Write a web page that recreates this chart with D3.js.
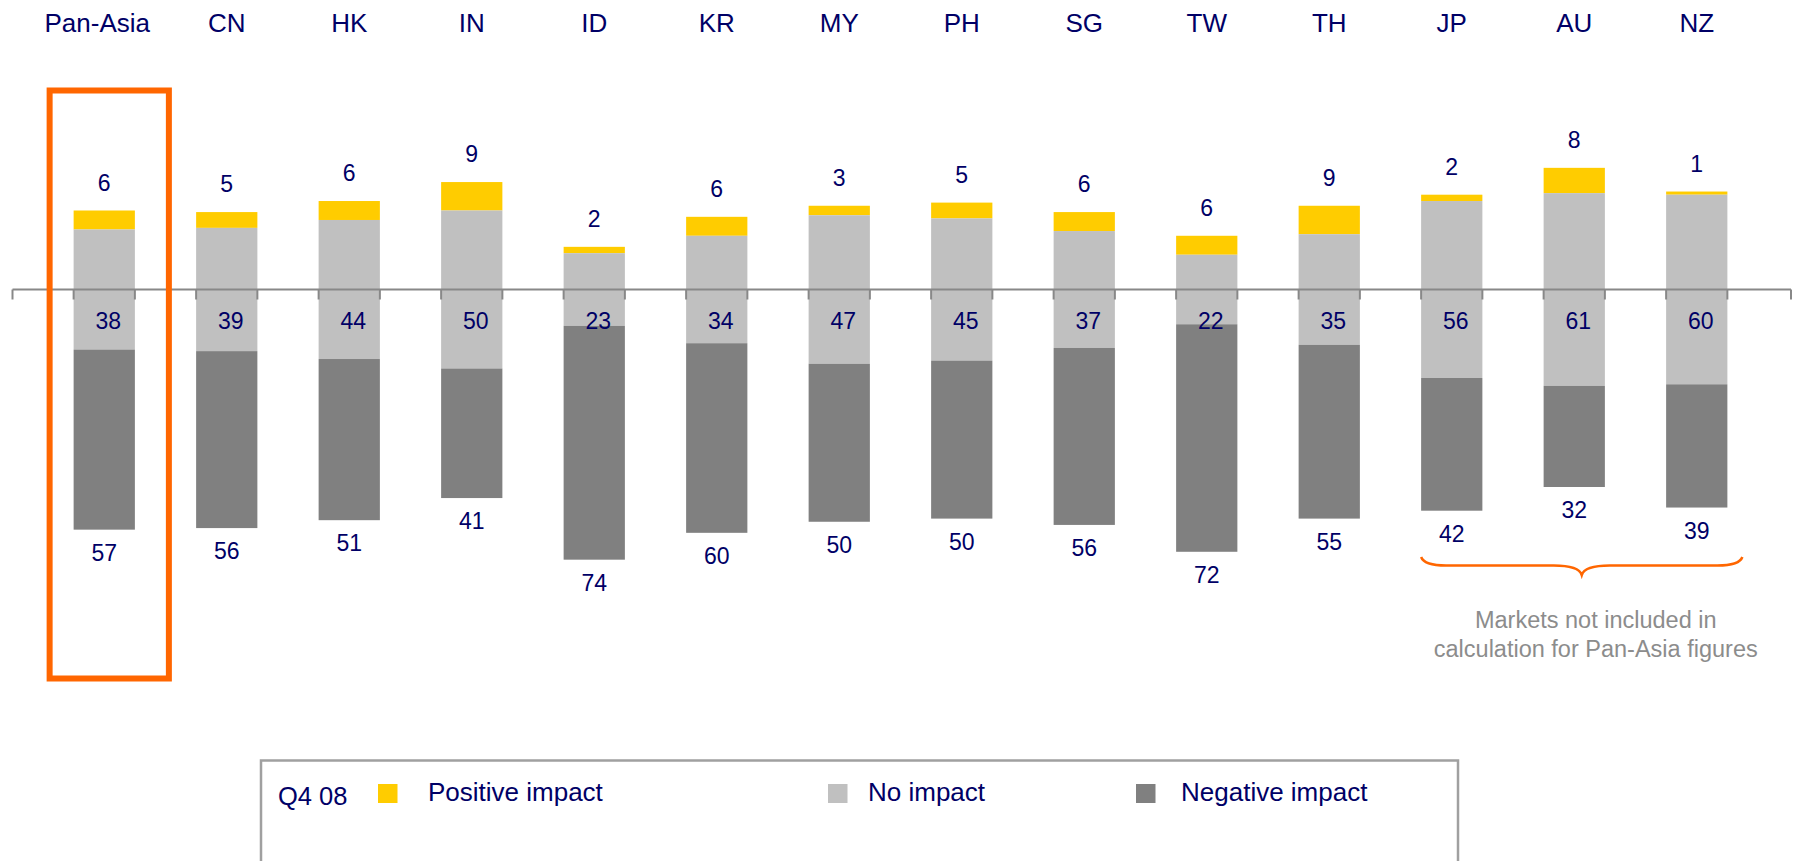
<!DOCTYPE html>
<html>
<head>
<meta charset="utf-8">
<script src="https://cdn.jsdelivr.net/npm/d3@7"></script>
<style>
	body { margin: 0; background: #fff; }
	svg { display: block; font-family: "Liberation Sans", Arial, sans-serif; }
</style>
</head>
<body>
<script>
	var markets = ["Pan-Asia", "CN", "HK", "IN", "ID", "KR", "MY", "PH", "SG", "TW", "TH", "JP", "AU", "NZ"];
	var positive = [6, 5, 6, 9, 2, 6, 3, 5, 6, 6, 9, 2, 8, 1];
	var noImpact = [38, 39, 44, 50, 23, 34, 47, 45, 37, 22, 35, 56, 61, 60];
	var negative = [57, 56, 51, 41, 74, 60, 50, 50, 56, 72, 55, 42, 32, 39];
	var excluded = ["JP", "AU", "NZ"];
	var legendItems = ["Positive impact", "No impact", "Negative impact"];
	var period = "Q4 08";
	var note = ["Markets not included in", "calculation for Pan-Asia figures"];

	var colors = ["#FFCC00", "#C0C0C0", "#808080"];
	var navy = "#000066";

	var w = 1795;
	var h = 861;
	var base = 289.5;

	var svg = d3.select("body").
	append("svg").
	attr("width", w).
	attr("height", h);

	// Set the ranges
	var x = d3.scaleBand().
	domain(markets).
	range([43, 43 + 14 * 122.5]).
	paddingInner(0.5).
	paddingOuter(0.25);

	var y = d3.scaleLinear().
	domain([-60, 60]).
	range([base + 189.6, base - 189.6]);

	var data = markets.map(function (m, i) {
		return {market: m, pos: positive[i], none: noImpact[i], neg: negative[i]};
	});

	// Stacked bars: no impact centred on the axis
	var bars = svg.selectAll(".bar").
	data(data).
	enter().
	append("g").
	attr("class", "bar");

	bars.append("rect").
	attr("x", function (d) {return x(d.market);}).
	attr("y", function (d) {return y(d.none / 2 + d.pos);}).
	attr("width", x.bandwidth()).
	attr("height", function (d) {return y(d.none / 2) - y(d.none / 2 + d.pos);}).
	style("fill", colors[0]);

	bars.append("rect").
	attr("x", function (d) {return x(d.market);}).
	attr("y", function (d) {return y(d.none / 2);}).
	attr("width", x.bandwidth()).
	attr("height", function (d) {return y(-d.none / 2) - y(d.none / 2);}).
	style("fill", colors[1]);

	bars.append("rect").
	attr("x", function (d) {return x(d.market);}).
	attr("y", function (d) {return y(-d.none / 2);}).
	attr("width", x.bandwidth()).
	attr("height", function (d) {return y(-d.none / 2 - d.neg) - y(-d.none / 2);}).
	style("fill", colors[2]);

	// Axis line with ticks at bar edges
	var tickX = [12.5, 1791];
	markets.forEach(function (m) {
		tickX.push(x(m));
		tickX.push(x(m) + x.bandwidth());
	});

	svg.append("line").
	attr("x1", 12.5).
	attr("x2", 1791).
	attr("y1", y(0)).
	attr("y2", y(0)).
	style("stroke", "#888").
	style("stroke-width", 2);

	svg.selectAll(".tick").
	data(tickX).
	enter().
	append("line").
	attr("class", "tick").
	attr("x1", function (d) {return d;}).
	attr("x2", function (d) {return d;}).
	attr("y1", y(0)).
	attr("y2", y(0) + 10).
	style("stroke", "#888").
	style("stroke-width", 2);

	// Value labels
	bars.append("text").
	attr("x", function (d) {return x(d.market) + x.bandwidth() / 2;}).
	attr("y", function (d) {return y(d.none / 2 + d.pos) - 20;}).
	attr("text-anchor", "middle").
	style("font-size", "23px").
	style("fill", navy).
	text(function (d) {return d.pos;});

	bars.append("text").
	attr("x", function (d) {return x(d.market) + x.bandwidth() / 2 + 4;}).
	attr("y", y(0) + 39).
	attr("text-anchor", "middle").
	style("font-size", "23px").
	style("fill", navy).
	text(function (d) {return d.none;});

	bars.append("text").
	attr("x", function (d) {return x(d.market) + x.bandwidth() / 2;}).
	attr("y", function (d) {return y(-d.none / 2 - d.neg) + 31;}).
	attr("text-anchor", "middle").
	style("font-size", "23px").
	style("fill", navy).
	text(function (d) {return d.neg;});

	// Market names along the top
	svg.selectAll(".market").
	data(markets).
	enter().
	append("text").
	attr("class", "market").
	attr("x", function (d, i) {return x(d) + x.bandwidth() / 2 - (i === 0 ? 7 : 0);}).
	attr("y", 32).
	attr("text-anchor", "middle").
	style("font-size", "26px").
	style("fill", navy).
	text(function (d) {return d;});

	// Highlight box round Pan-Asia
	svg.append("rect").
	attr("x", x("Pan-Asia") - 24).
	attr("y", 90.5).
	attr("width", x.bandwidth() + 58).
	attr("height", 588).
	style("fill", "none").
	style("stroke", "#FF6600").
	style("stroke-width", 6);

	// Curly brace under the excluded markets
	var bl = x(excluded[0]);
	var br = x(excluded[excluded.length - 1]) + x.bandwidth() + 15;
	var bm = (bl + br) / 2;
	var by = 557;
	var brace = d3.path();
	brace.moveTo(bl, by);
	brace.quadraticCurveTo(bl + 3, by + 8.5, bl + 25, by + 8.5);
	brace.lineTo(bm - 28, by + 8.5);
	brace.quadraticCurveTo(bm - 3, by + 8.5, bm, by + 18);
	brace.quadraticCurveTo(bm + 3, by + 8.5, bm + 28, by + 8.5);
	brace.lineTo(br - 25, by + 8.5);
	brace.quadraticCurveTo(br - 3, by + 8.5, br, by);

	svg.append("path").
	attr("d", brace.toString()).
	style("fill", "none").
	style("stroke", "#FF6600").
	style("stroke-width", 2.5);

	svg.selectAll(".note").
	data(note).
	enter().
	append("text").
	attr("class", "note").
	attr("x", bm + 14).
	attr("y", function (d, i) {return 628 + i * 28.5;}).
	attr("text-anchor", "middle").
	style("font-size", "23.5px").
	style("fill", "#8C8C8C").
	text(function (d) {return d;});

	// Legend
	svg.append("rect").
	attr("x", 261).
	attr("y", 760.5).
	attr("width", 1197).
	attr("height", 200).
	style("fill", "none").
	style("stroke", "#A0A0A0").
	style("stroke-width", 2.5);

	svg.append("text").
	attr("x", 278).
	attr("y", 805).
	style("font-size", "25.5px").
	style("fill", navy).
	text(period);

	var swatchX = [378, 828, 1136];
	var labelX = [428, 868, 1181];

	var legend = svg.selectAll(".legend").
	data(legendItems).
	enter().
	append("g").
	attr("class", "legend");

	legend.append("rect").
	attr("x", function (d, i) {return swatchX[i];}).
	attr("y", 784).
	attr("width", 19.5).
	attr("height", 19).
	style("fill", function (d, i) {return colors[i];});

	legend.append("text").
	attr("x", function (d, i) {return labelX[i];}).
	attr("y", 801).
	style("font-size", "26px").
	style("fill", navy).
	text(function (d) {return d;});
</script>
</body>
</html>
